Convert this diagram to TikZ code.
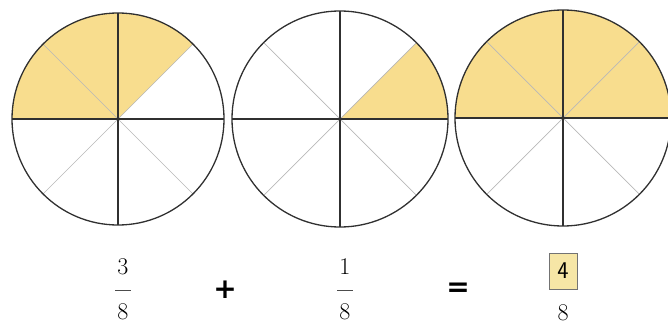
\documentclass[tikz,border=0pt]{standalone}
\usepackage{fontspec}
\newfontfamily\opfont{DejaVu Sans}
\definecolor{piefill}{HTML}{F8DD8E}
\definecolor{boxfill}{HTML}{F6E6A6}
\definecolor{rimcol}{HTML}{303030}
\definecolor{diagcol}{HTML}{B8B8B8}
\begin{document}
\begin{tikzpicture}[x=1pt,y=-1pt,
  rim/.style={draw=rimcol,line width=1.3pt},
  axisline/.style={draw=rimcol,line width=1.1pt},
  diagline/.style={draw=diagcol,line width=0.7pt},
  shade/.style={fill=piefill,draw=none},
  numtext/.style={font=\fontsize{24}{28}\selectfont,inner sep=0pt},
  optext/.style={font=\opfont\bfseries\fontsize{28}{32}\selectfont,inner sep=0pt},
  fracbar/.style={draw=black!70,line width=0.9pt}]
\useasboundingbox (0,0) rectangle (668,326);
% circle 1
\coordinate (c1) at (118,119);
\fill[shade] (c1) -- ++(-45:106) arc[start angle=-45,end angle=-180,radius=106] -- cycle;
% circle 2
\coordinate (c2) at (340,119);
\fill[shade] (c2) -- ++(0:108) arc[start angle=0,end angle=-45,radius=108] -- cycle;
% circle 3
\coordinate (c3) at (563,118);
\fill[shade] (c3) -- ++(0:108) arc[start angle=0,end angle=-180,radius=108] -- cycle;
\foreach \c/\r in {c1/106,c2/108,c3/108}{
  \draw[diagline] (\c) ++(45:\r) -- ++(225:2*\r);
  \draw[diagline] (\c) ++(135:\r) -- ++(315:2*\r);
  \draw[axisline] (\c) ++(-\r,0) -- ++(2*\r,0);
  \draw[axisline] (\c) ++(0,-\r) -- ++(0,2*\r);
  \draw[rim] (\c) circle[radius=\r];
}
% equation
\node[numtext] (n1) at (123,267) {3};
\node[numtext] (d1) at (123,312) {8};
\draw[fracbar] (115,290) -- (131,290);
\node[optext] (plus) at (225,290) {+};
\node[numtext] (n2) at (345,267) {1};
\node[numtext] (d2) at (345,312) {8};
\draw[fracbar] (337,290) -- (353,290);
\node[optext] (eq) at (458,290) {=};
\node[draw=black!55,line width=0.9pt,fill=boxfill,minimum width=28pt,minimum height=36pt,inner sep=0pt,font=\sffamily\fontsize{24}{28}\selectfont] (box) at (563,271) {4};
\node[numtext] (d3) at (563,313) {8};
\end{tikzpicture}
\end{document}
